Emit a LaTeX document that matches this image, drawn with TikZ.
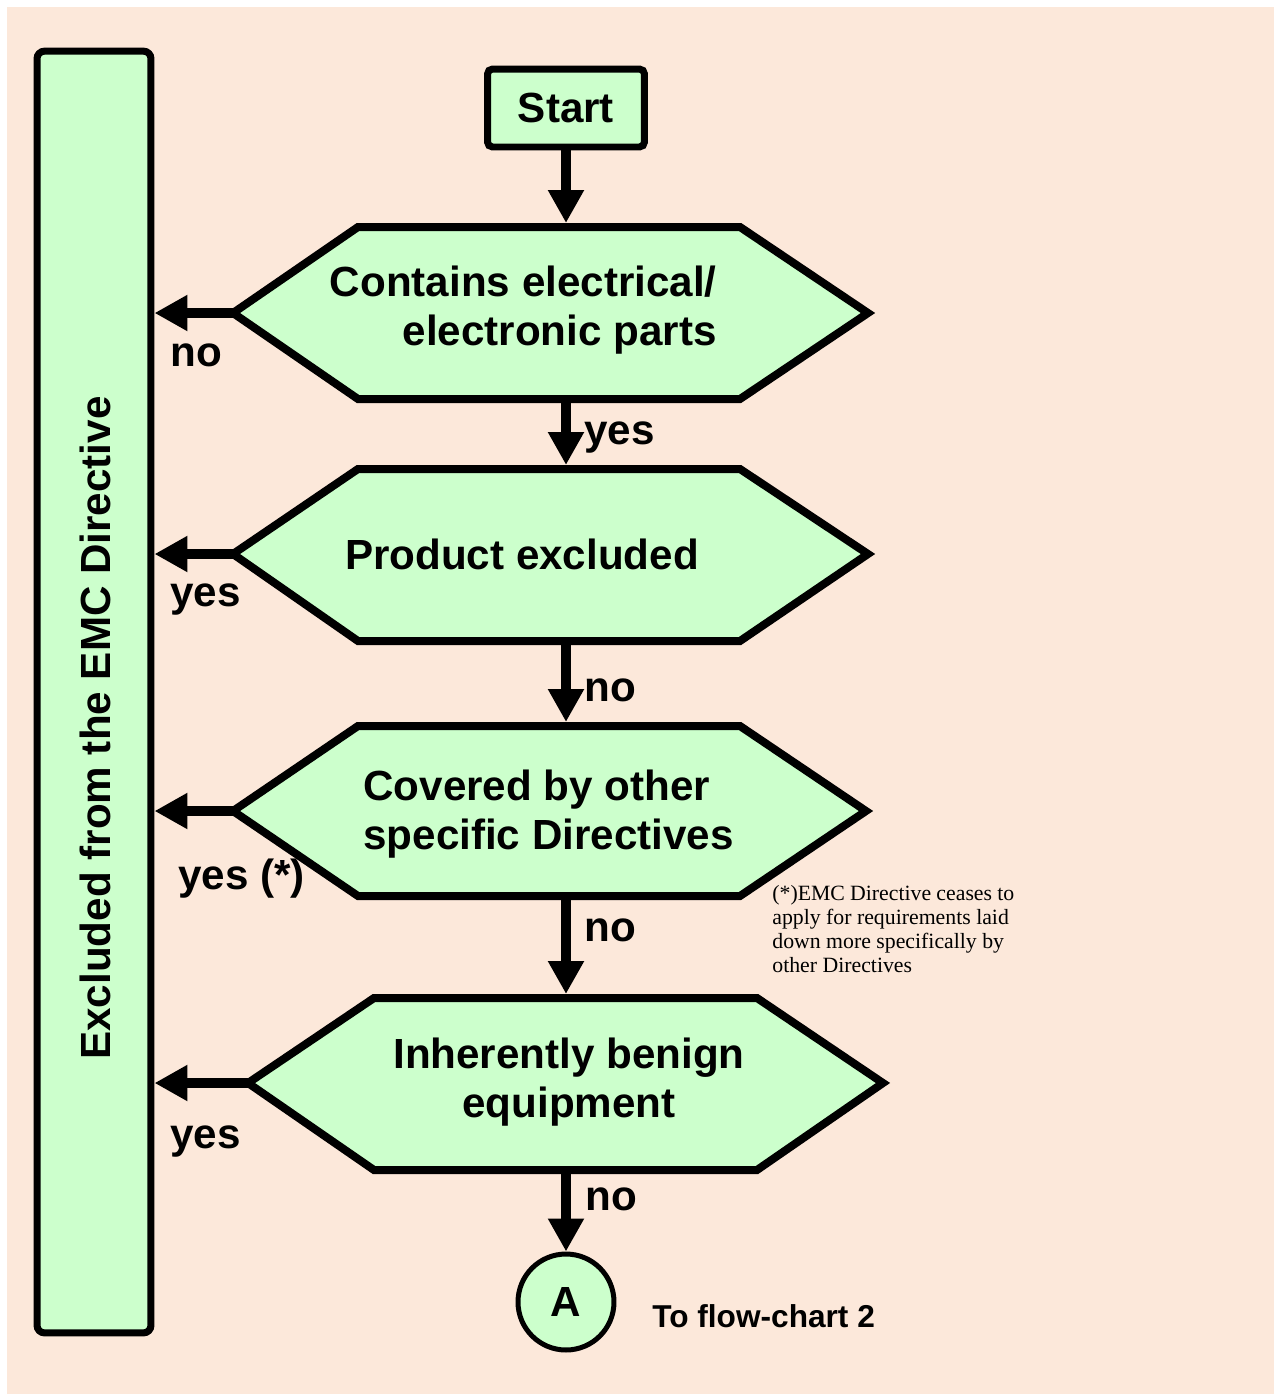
\documentclass[tikz,border=0pt]{standalone}
\usepackage{fontspec}
\setmainfont{Liberation Sans}
\newfontfamily\notefont{Liberation Serif}
\usetikzlibrary{arrows.meta}

\definecolor{peach}{RGB}{252,232,218}
\definecolor{mint}{RGB}{204,255,204}

\begin{document}
\begin{tikzpicture}[x=0.02cm, y=-0.02cm,
	box/.style = {draw, fill=mint, line width=0.14cm, rounded corners=0.15cm, inner sep=0pt},
	hexa/.style = {draw, fill=mint, line width=0.16cm},
	quest/.style = {font=\fontsize{24}{28}\selectfont\bfseries, inner sep=0pt},
	answer/.style = {font=\fontsize{24}{28}\selectfont\bfseries, inner sep=0pt, anchor=base west},
	flow/.style = {line width=0.2cm, -{Triangle[length=0.66cm, width=0.68cm]}}]

	\useasboundingbox (0,0) rectangle (1280,1394);
	\fill[peach] (7,7) rectangle (1274,1394);

	% left bar
	\node[box, minimum width=2.28cm, minimum height=25.64cm] (excl) at (94,692) {};
	\node[quest, rotate=90] (exclText) at (95,728) {Excluded from the EMC Directive};

	\node[box, quest, rounded corners=0.1cm, minimum width=3.14cm, minimum height=1.56cm] (start) at (566,108) {Start};

	% decisions
	\draw[hexa] (233,313) coordinate (h1w) -- (358,227) -- (740,227) -- (868,313) -- (740,399) -- (358,399) -- cycle;
	\draw[hexa] (233,554) coordinate (h2w) -- (358,469) -- (740,469) -- (868,554) -- (740,641) -- (358,641) -- cycle;
	\draw[hexa] (233,811) coordinate (h3w) -- (358,726) -- (740,726) -- (866,811) -- (740,896) -- (358,896) -- cycle;
	\draw[hexa] (248,1083) coordinate (h4w) -- (374,998) -- (757,998) -- (883,1083) -- (757,1170) -- (374,1170) -- cycle;
	\coordinate (h1n) at (566,223);
	\coordinate (h1s) at (566,403);
	\coordinate (h2n) at (566,465);
	\coordinate (h2s) at (566,645);
	\coordinate (h3n) at (566,722);
	\coordinate (h3s) at (566,900);
	\coordinate (h4n) at (566,994);
	\coordinate (h4s) at (566,1174);

	\node[quest, align=right, anchor=east] (q1) at (717,310) {Contains electrical/\\electronic parts};
	\node[quest, anchor=base] (q2) at (522,569) {Product excluded};
	\node[quest, align=left, anchor=west] (q3) at (363,814) {Covered by other\\specific Directives};
	\node[quest, align=center] (q4) at (569,1082) {Inherently benign\\equipment};

	\node[circle, draw, fill=mint, line width=0.1cm, minimum size=1.92cm, quest] (conA) at (566,1302) {A};
	\node[anchor=base west, inner sep=0pt, font=\fontsize{18}{22}\selectfont\bfseries] (toChart) at (652,1327) {To flow-chart 2};

	\node[anchor=north west, inner sep=0pt, align=left, font=\notefont\fontsize{12.4}{13.7}\selectfont] (note) at (772,885)
		{\makebox[4.84cm][s]{(*)EMC Directive ceases to}\\apply for requirements laid\\down more specifically by\\other Directives};

	% connectors
	\draw[flow] (start.south) -- (h1n);
	\draw[flow] (h1s) -- (h2n);
	\draw[flow] (h2s) -- (h3n);
	\draw[flow] (h3s) -- (h4n);
	\draw[flow] (h4s) -- (conA.north);
	\draw[flow] (h1w) -- (h1w -| excl.east);
	\draw[flow] (h2w) -- (h2w -| excl.east);
	\draw[flow] (h3w) -- (h3w -| excl.east);
	\draw[flow] (h4w) -- (h4w -| excl.east);

	\node[answer] (a1) at (584,444) {yes};
	\node[answer] (a2) at (584,701) {no};
	\node[answer] (a3) at (584,941) {no};
	\node[answer] (a4) at (585,1210) {no};
	\node[answer] (b1) at (170,366) {no};
	\node[answer] (b2) at (170,606) {yes};
	\node[answer] (b3) at (178,889) {yes (*)};
	\node[answer] (b4) at (170,1148) {yes};
\end{tikzpicture}
\end{document}
